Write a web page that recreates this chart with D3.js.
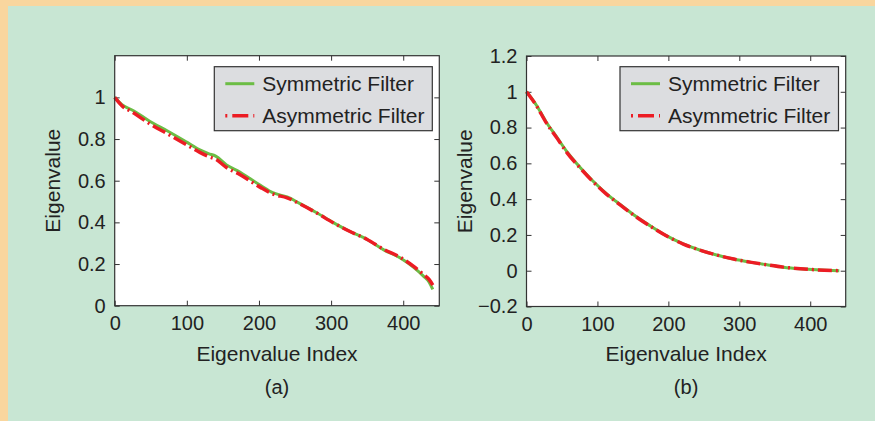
<!DOCTYPE html>
<html>
<head>
<meta charset="utf-8">
<script src="https://cdn.jsdelivr.net/npm/d3@7"></script>
<style>
  html, body { margin: 0; padding: 0; }
  body { width: 875px; height: 421px; overflow: hidden; background: #c8e6d3; }
  svg text { font-family: "Liberation Sans", Arial, sans-serif; fill: #222; }
</style>
</head>
<body>
<div id="chart"></div>
<script>
// panel (a)
const idxA = [0, 10, 26, 49, 72, 100, 118, 130, 140, 155, 174, 188, 202, 220, 239, 257, 280, 303, 327, 350, 373, 396, 414, 428, 436, 441];
const symA = [1.0, 0.965, 0.936, 0.884, 0.841, 0.785, 0.748, 0.730, 0.718, 0.676, 0.641, 0.609, 0.578, 0.541, 0.522, 0.490, 0.446, 0.399, 0.355, 0.318, 0.268, 0.229, 0.185, 0.142, 0.113, 0.078];
const asymA = [1.0, 0.960, 0.926, 0.872, 0.827, 0.772, 0.736, 0.716, 0.703, 0.663, 0.629, 0.598, 0.568, 0.535, 0.518, 0.488, 0.445, 0.398, 0.355, 0.318, 0.270, 0.232, 0.190, 0.150, 0.125, 0.099];

// panel (b)
const idxB = [0, 14, 28, 43, 57, 75, 94, 113, 132, 151, 174, 197, 221, 244, 268, 292, 315, 339, 362, 386, 409, 441];
const symB = [1.0, 0.925, 0.830, 0.745, 0.665, 0.580, 0.500, 0.430, 0.370, 0.313, 0.252, 0.196, 0.150, 0.116, 0.088, 0.065, 0.048, 0.033, 0.020, 0.011, 0.005, 0.0];
const asymB = [1.0, 0.922, 0.826, 0.741, 0.660, 0.577, 0.497, 0.427, 0.368, 0.311, 0.250, 0.195, 0.149, 0.116, 0.088, 0.065, 0.048, 0.033, 0.020, 0.011, 0.005, 0.0];

const xTicks = [0, 100, 200, 300, 400];
const yTicksA = [0, 0.2, 0.4, 0.6, 0.8, 1];
const yTicksB = [-0.2, 0, 0.2, 0.4, 0.6, 0.8, 1, 1.2];
const seriesNames = ["Symmetric Filter", "Asymmetric Filter"];

const W = 875, H = 421;
const green = "#6cbd45", red = "#ec1c24", ink = "#333";

const svg = d3.select("#chart").append("svg")
  .attr("width", W).attr("height", H);

// background with orange frame on top/left
svg.append("rect").attr("width", W).attr("height", H).attr("fill", "#f9d69e");
svg.append("rect").attr("x", 8).attr("y", 6).attr("width", W - 8).attr("height", H - 6).attr("fill", "#c8e6d3");

const fmt = d => String(+d.toFixed(1)).replace("-", "\u2212");

function drawPanel(o) {
  const x = d3.scaleLinear().domain([0, 450]).range([o.left, o.right]);
  const y = d3.scaleLinear().domain(o.yDomain).range([o.bottom, o.top]);
  const g = svg.append("g");

  g.append("rect")
    .attr("x", o.left).attr("y", o.top)
    .attr("width", o.right - o.left).attr("height", o.bottom - o.top)
    .attr("fill", "#fff");

  const styleAxis = sel => {
    sel.select(".domain").remove();
    sel.selectAll("line").attr("stroke", ink);
    sel.selectAll("text").attr("font-size", 20).attr("fill", "#222");
  };

  g.append("g").attr("transform", `translate(0,${o.bottom})`)
    .call(d3.axisBottom(x).tickValues(xTicks).tickSizeInner(-5).tickSizeOuter(0).tickPadding(10))
    .call(styleAxis);
  g.append("g").attr("transform", `translate(0,${o.top})`)
    .call(d3.axisTop(x).tickValues(xTicks).tickSizeInner(-5).tickSizeOuter(0).tickFormat(""))
    .call(styleAxis);
  g.append("g").attr("transform", `translate(${o.left},0)`)
    .call(d3.axisLeft(y).tickValues(o.yTicks).tickSizeInner(-5).tickSizeOuter(0).tickPadding(9).tickFormat(fmt))
    .call(styleAxis);
  g.append("g").attr("transform", `translate(${o.right},0)`)
    .call(d3.axisRight(y).tickValues(o.yTicks).tickSizeInner(-5).tickSizeOuter(0).tickFormat(""))
    .call(styleAxis);

  const line = d3.line().x(d => x(d[0])).y(d => y(d[1])).curve(d3.curveMonotoneX);

  g.append("path")
    .datum(o.idx.map((v, i) => [v, o.sym[i]]))
    .attr("fill", "none").attr("stroke", green).attr("stroke-width", 3)
    .attr("d", line);
  g.append("path")
    .datum(o.idx.map((v, i) => [v, o.asym[i]]))
    .attr("fill", "none").attr("stroke", red).attr("stroke-width", 3.5)
    .attr("stroke-dasharray", "14,4,2,4")
    .attr("d", line);

  g.append("rect")
    .attr("x", o.left).attr("y", o.top)
    .attr("width", o.right - o.left).attr("height", o.bottom - o.top)
    .attr("fill", "none").attr("stroke", ink).attr("stroke-width", 1.2);

  // legend
  const lg = g.append("g").attr("transform", `translate(${o.legX},${o.legY})`);
  lg.append("rect").attr("width", o.legW).attr("height", 64)
    .attr("fill", "#dcdde0").attr("stroke", ink).attr("stroke-width", 1.2);
  seriesNames.forEach((name, i) => {
    const yy = 17 + i * 32;
    lg.append("line").attr("x1", 11).attr("x2", 40).attr("y1", yy).attr("y2", yy)
      .attr("stroke", i === 0 ? green : red).attr("stroke-width", i === 0 ? 3 : 3.5)
      .attr("stroke-dasharray", i === 0 ? null : "2,5,16,5,2");
    lg.append("text").attr("x", 48).attr("y", yy).attr("dy", "0.36em")
      .attr("font-size", 21).text(name);
  });

  // labels
  const cx = (o.left + o.right) / 2;
  g.append("text").attr("x", cx).attr("y", 361).attr("text-anchor", "middle")
    .attr("font-size", 21).text("Eigenvalue Index");
  g.append("text").attr("x", cx).attr("y", 394).attr("text-anchor", "middle")
    .attr("font-size", 20).text(o.tag);
  g.append("text")
    .attr("transform", `translate(${o.yLabelX},${(o.top + o.bottom) / 2}) rotate(-90)`)
    .attr("text-anchor", "middle").attr("font-size", 21).text("Eigenvalue");
}

drawPanel({
  left: 114.7, right: 439.3, top: 55.7, bottom: 305.7,
  yDomain: [0, 1.2], yTicks: yTicksA,
  idx: idxA, sym: symA, asym: asymA,
  legX: 214.3, legY: 66.7, legW: 218, tag: "(a)", yLabelX: 60
});
drawPanel({
  left: 526.5, right: 845.7, top: 56, bottom: 306.5,
  yDomain: [-0.2, 1.2], yTicks: yTicksB,
  idx: idxB, sym: symB, asym: asymB,
  legX: 620, legY: 66.7, legW: 218.5, tag: "(b)", yLabelX: 472
});
</script>
</body>
</html>
